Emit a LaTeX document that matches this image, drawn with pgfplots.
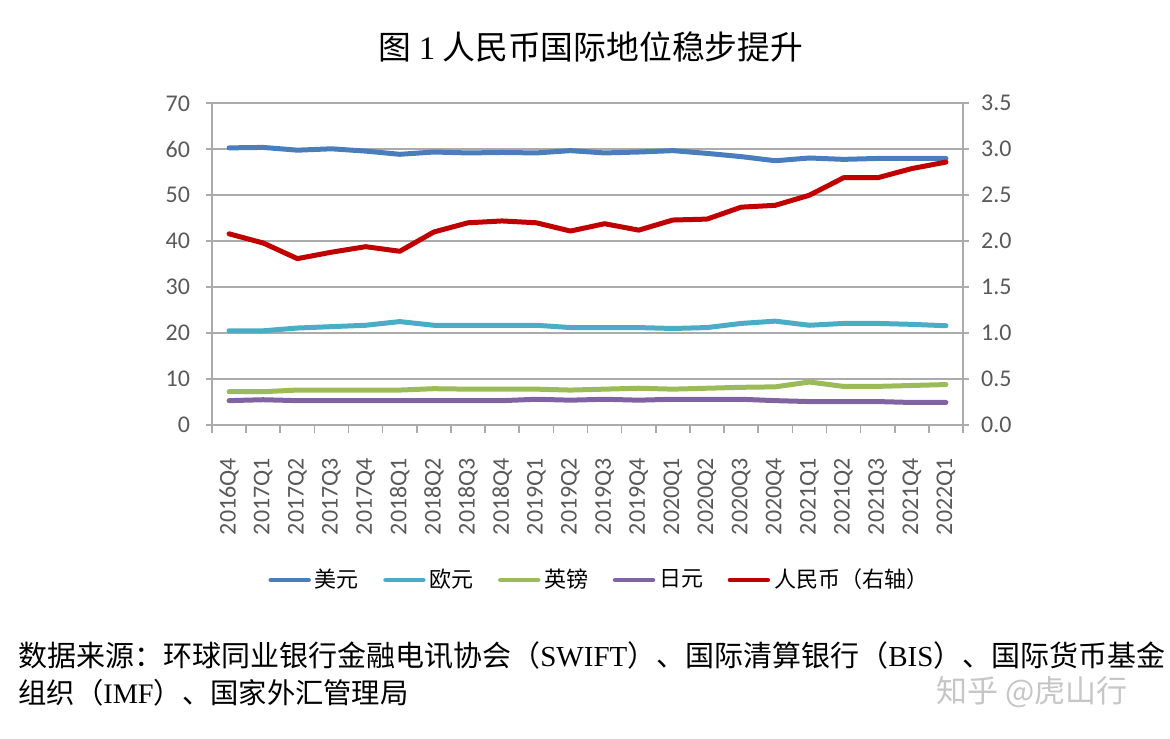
\documentclass[border=0pt]{standalone}
\usepackage{fontspec}
\usepackage{pgfplots}
\usepackage{pgfplotstable}
\pgfplotsset{compat=1.18}
\setmainfont{Noto Sans CJK SC}
\newfontfamily\tickfont{Carlito}
\newfontfamily\serif{Liberation Serif}
\definecolor{cusd}{HTML}{4A7EBB}
\definecolor{ceur}{HTML}{4BACC6}
\definecolor{cgbp}{HTML}{9BBB59}
\definecolor{cjpy}{HTML}{8064A2}
\definecolor{crmb}{HTML}{C00000}
\definecolor{tickc}{HTML}{595959}
\definecolor{gridc}{HTML}{ABABAB}
\pgfplotstableread{
x usd eur gbp jpy
0 60.3 20.5 7.25 5.3
1 60.4 20.5 7.25 5.5
2 59.8 21.1 7.6 5.3
3 60.1 21.4 7.6 5.3
4 59.6 21.7 7.6 5.3
5 58.9 22.5 7.6 5.3
6 59.4 21.7 7.9 5.3
7 59.2 21.7 7.8 5.3
8 59.3 21.7 7.8 5.3
9 59.2 21.7 7.8 5.6
10 59.7 21.2 7.6 5.4
11 59.2 21.2 7.8 5.6
12 59.4 21.2 8.0 5.4
13 59.7 21.0 7.8 5.6
14 59.1 21.2 8.0 5.6
15 58.4 22.1 8.2 5.6
16 57.5 22.6 8.3 5.3
17 58.1 21.7 9.35 5.1
18 57.8 22.1 8.4 5.1
19 58.0 22.1 8.4 5.1
20 58.0 21.9 8.6 4.9
21 58.0 21.6 8.8 4.9
}\maindata
\pgfplotstableread{
x rmb
0 2.08
1 1.98
2 1.81
3 1.88
4 1.94
5 1.89
6 2.10
7 2.20
8 2.22
9 2.20
10 2.11
11 2.19
12 2.12
13 2.23
14 2.24
15 2.37
16 2.39
17 2.50
18 2.69
19 2.69
20 2.79
21 2.86
}\rmbdata
\begin{document}
\begin{tikzpicture}
\useasboundingbox (0,0) rectangle (585pt,369pt);
\node[font=\fontsize{16.4}{16.4}\selectfont] at (295.5pt,345.5pt) {图 {\serif 1} 人民币国际地位稳步提升};
\pgfplotsset{
  base/.style={
    scale only axis, width=375.5pt, height=160.85pt,
    at={(106pt,156.5pt)}, anchor=south west,
    xmin=-0.5, xmax=21.5,
    /pgf/number format/assume math mode=true,
    tick align=outside,
    axis line style={gridc, line width=0.8pt},
    every tick/.style={gridc, line width=0.8pt},
    major tick length=3pt, minor tick length=4pt,
    ticklabel style={font=\tickfont\fontsize{12}{12}\selectfont, text=tickc},
    every axis plot/.append style={line width=2.5pt, line join=round, line cap=round},
  }
}
\begin{axis}[base,
  axis x line*=bottom, axis y line*=left,
  ymin=0, ymax=70, ytick={0,10,...,70},
  ymajorgrids, grid style={gridc, line width=0.8pt},
  yticklabel style={xshift=-4.5pt},
  xtick={0,...,21},
  xticklabels={2016Q4,2017Q1,2017Q2,2017Q3,2017Q4,2018Q1,2018Q2,2018Q3,2018Q4,2019Q1,2019Q2,2019Q3,2019Q4,2020Q1,2020Q2,2020Q3,2020Q4,2021Q1,2021Q2,2021Q3,2021Q4,2022Q1},
  major x tick style={draw=none},
  minor xtick={-0.5,0.5,...,21.5},
  xticklabel style={rotate=90, anchor=east, xshift=-10pt},
  legend columns=5,
  legend style={at={(0.517,-0.4818)}, anchor=center, draw=none, fill=none,
    font=\fontsize{11}{11}\selectfont,
    /tikz/every even column/.append style={column sep=10.2pt}},
  legend image code/.code={\draw[#1, line width=2.2pt] (0pt,0pt) -- (19pt,0pt);},
]
\addplot[cusd] table[x=x,y=usd] {\maindata};
\addlegendentry{美元}
\addplot[ceur] table[x=x,y=eur] {\maindata};
\addlegendentry{欧元}
\addplot[cgbp] table[x=x,y=gbp] {\maindata};
\addlegendentry{英镑}
\addplot[cjpy] table[x=x,y=jpy] {\maindata};
\addlegendentry{日元}
\addlegendimage{crmb}
\addlegendentry{人民币（右轴）}
\end{axis}
\begin{axis}[base,
  axis x line=none, axis y line*=right,
  ymin=0, ymax=3.5, ytick={0,0.5,...,3.5},
  yticklabel style={xshift=2.5pt, /pgf/number format/.cd, fixed, fixed zerofill, precision=1},
]
\addplot[crmb] table[x=x,y=rmb] {\rmbdata};
\end{axis}
\node[anchor=base west, inner sep=0pt] at (9pt,36pt) {\resizebox{573.5pt}{!}{\fontsize{15}{15}\selectfont 数据来源：环球同业银行金融电讯协会（{\serif SWIFT}）、国际清算银行（{\serif BIS}）、国际货币基金}};
\node[anchor=base west, inner sep=0pt] at (9pt,17.5pt) {\scalebox{0.944}{\fontsize{15}{15}\selectfont 组织（{\serif IMF}）、国家外汇管理局}};
\node[font=\fontsize{15.5}{15.5}\selectfont, text=gray!45] at (516pt,23pt) {知乎 @虎山行};
\end{tikzpicture}
\end{document}
